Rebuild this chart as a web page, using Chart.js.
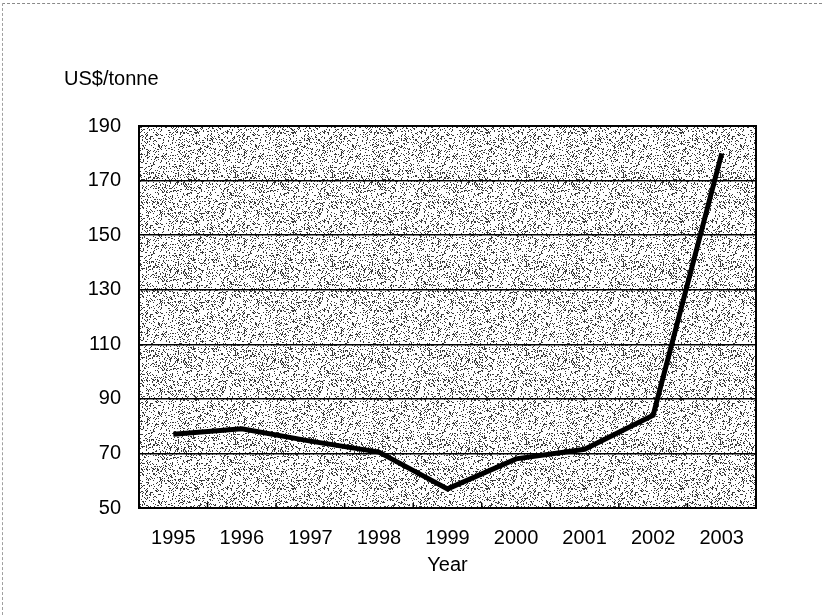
<!DOCTYPE html>
<html>
<head>
<meta charset="utf-8">
<script src="https://cdn.jsdelivr.net/npm/chart.js@4"></script>
<style>
  html, body { margin: 0; padding: 0; background: #fff; }
  .page { position: relative; width: 822px; height: 615px; }
  .scan-edge {
    position: absolute; left: 2px; top: 3px; right: 0; bottom: 0;
    border-top: 1px dashed #8a8a8a;
    border-left: 1px dashed #a0a0a0;
    pointer-events: none;
  }
  canvas { position: absolute; left: 0; top: 0; }
</style>
</head>
<body>
<div class="page">
  <canvas id="priceChart" width="822" height="615"></canvas>
  <div class="scan-edge"></div>
</div>
<script>
// data
const years = ['1995', '1996', '1997', '1998', '1999', '2000', '2001', '2002', '2003'];
const prices = [77, 79, 74.5, 70.5, 57, 68, 71.5, 84, 180];
const yMin = 50;
const yMax = 190;
const yStep = 20;

const FONT = "'Liberation Sans', Arial, sans-serif";

// stippled grey fill like the printed chart (fixed hash, not data)
function makeStipple() {
  const c = document.createElement('canvas');
  c.width = 97;
  c.height = 89;
  const g = c.getContext('2d');
  g.fillStyle = '#ffffff';
  g.fillRect(0, 0, c.width, c.height);
  g.fillStyle = '#3a3a3a';
  for (let y = 0; y < c.height; y++) {
    for (let x = 0; x < c.width; x++) {
      let h = (x * 374761393 + y * 668265263) | 0;
      h = Math.imul(h ^ (h >>> 13), 1274126177);
      h = (h ^ (h >>> 16)) >>> 0;
      if (h % 1000 < 200) g.fillRect(x, y, 1, 1);
    }
  }
  return c;
}

const stipplePlugin = {
  id: 'stipple',
  beforeDraw(chart) {
    const { ctx, chartArea: a } = chart;
    ctx.save();
    ctx.fillStyle = ctx.createPattern(makeStipple(), 'repeat');
    ctx.fillRect(a.left, a.top, a.right - a.left, a.bottom - a.top);
    ctx.restore();
  },
};

// unit label above the y axis and inward tick marks on the x axis
const extrasPlugin = {
  id: 'extras',
  afterDraw(chart) {
    const { ctx, chartArea: a } = chart;
    const x = chart.scales.x;
    ctx.save();
    ctx.fillStyle = '#000';
    ctx.font = '20px ' + FONT;
    ctx.textBaseline = 'alphabetic';
    ctx.textAlign = 'left';
    ctx.fillText('US$/tonne', 64, 85);

    ctx.strokeStyle = '#000';
    ctx.lineWidth = 1.5;
    for (let i = 1; i < years.length; i++) {
      const px = (x.getPixelForValue(i - 1) + x.getPixelForValue(i)) / 2;
      ctx.beginPath();
      ctx.moveTo(px, a.bottom);
      ctx.lineTo(px, a.bottom - 5);
      ctx.stroke();
    }
    ctx.lineWidth = 2;
    ctx.strokeRect(a.left, a.top, a.right - a.left, a.bottom - a.top);
    ctx.restore();
  },
};

new Chart(document.getElementById('priceChart'), {
  type: 'line',
  data: {
    labels: years,
    datasets: [
      {
        label: 'US$/tonne',
        data: prices,
        borderColor: '#000',
        borderWidth: 5,
        borderCapStyle: 'butt',
        borderJoinStyle: 'miter',
        pointRadius: 0,
        tension: 0,
        fill: false,
      },
    ],
  },
  options: {
    responsive: false,
    animation: false,
    layout: {
      padding: { top: 126, right: 66, bottom: 0, left: 0 },
    },
    plugins: {
      legend: { display: false },
      tooltip: { enabled: false },
    },
    scales: {
      x: {
        offset: true,
        grid: { display: false, offset: true },
        border: { display: true, color: '#000', width: 2 },
        ticks: {
          color: '#000',
          font: { family: FONT, size: 20 },
          padding: 10,
          maxRotation: 0,
        },
        title: {
          display: true,
          text: 'Year',
          color: '#000',
          font: { family: FONT, size: 20 },
          padding: { top: 0, bottom: 38 },
        },
        afterFit(scale) {
          scale.height = 107;
        },
      },
      y: {
        min: yMin,
        max: yMax,
        ticks: {
          stepSize: yStep,
          color: '#000',
          font: { family: FONT, size: 20 },
          padding: 18,
        },
        grid: {
          color: '#000',
          lineWidth: 1.5,
          drawTicks: false,
        },
        border: { display: true, color: '#000', width: 2 },
        afterFit(scale) {
          scale.width = 139;
        },
      },
    },
  },
  plugins: [stipplePlugin, extrasPlugin],
});
</script>
</body>
</html>
